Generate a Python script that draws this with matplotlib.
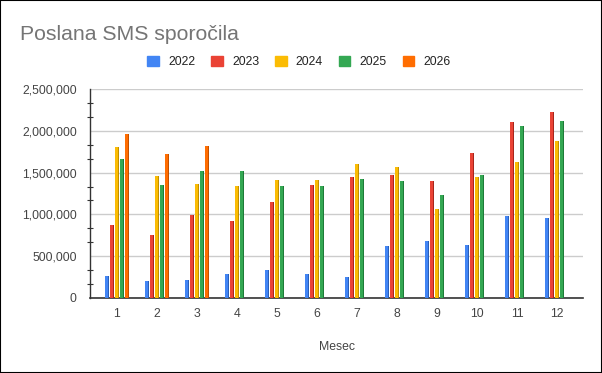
import matplotlib
matplotlib.use("Agg")
import matplotlib.pyplot as plt
import matplotlib.patches as mpatches
from matplotlib.ticker import MultipleLocator, FuncFormatter
import numpy as np

plt.rcParams['font.family'] = ['Liberation Sans', 'DejaVu Sans']

months = [1, 2, 3, 4, 5, 6, 7, 8, 9, 10, 11, 12]
years = ["2022", "2023", "2024", "2025", "2026"]
v2022 = [262000, 202000, 214000, 286000, 333000, 286000, 250000, 619000, 679000, 631000, 976000, 952000]
v2023 = [869000, 750000, 996000, 917000, 1143000, 1357000, 1452000, 1476000, 1405000, 1738000, 2107000, 2226000]
v2024 = [1809000, 1464000, 1369000, 1345000, 1417000, 1417000, 1607000, 1571000, 1059000, 1452000, 1631000, 1881000]
v2025 = [1667000, 1357000, 1524000, 1524000, 1345000, 1345000, 1428000, 1405000, 1238000, 1476000, 2059000, 2119000]
v2026 = [1964000, 1726000, 1821000]
series = [v2022, v2023, v2024, v2025, v2026]
colors = ["#4285F4", "#EA4335", "#FBBC04", "#34A853", "#FF6D01"]
darks = ["#2a5fb8", "#a8261b", "#c08f00", "#1f7a38", "#c25000"]

W, H = 602, 373
fig = plt.figure(figsize=(W / 100, H / 100), dpi=100)
ax = fig.add_axes([90 / W, 1 - 298 / H, (583 - 90) / W, (298 - 89) / H])

step = 0.125
bw = 0.092
for i, (vals, c, d) in enumerate(zip(series, colors, darks)):
    x = np.array(months[:len(vals)], dtype=float) + (i - 2) * step
    ax.bar(x, vals, width=bw, color=c, linewidth=0, zorder=3, label=years[i])
    ax.bar(x + bw * 0.36, vals, width=bw * 0.28, color=d, linewidth=0, zorder=4)

ax.set_xlim(0.33, 12.65)
ax.set_ylim(0, 2500000)
ax.set_xticks(months)
ax.set_xticklabels([str(m) for m in months])
ax.yaxis.set_major_locator(MultipleLocator(500000))
ax.yaxis.set_minor_locator(MultipleLocator(500000 / 3))
ax.yaxis.set_major_formatter(FuncFormatter(lambda v, p: f"{int(v):,}"))
ax.grid(axis='y', which='major', color='#cccccc', linewidth=1, zorder=0)
ax.set_axisbelow(True)
for s in ['top', 'right']:
    ax.spines[s].set_visible(False)
ax.spines['left'].set_color('#333333')
ax.spines['bottom'].set_color('#333333')
ax.spines['left'].set_linewidth(1)
ax.spines['bottom'].set_linewidth(1.2)
ax.tick_params(axis='y', which='major', length=0, pad=9.5, labelsize=8.8, labelcolor='#444444')
ax.tick_params(axis='y', which='minor', length=4, direction='inout', color='#333333', width=0.8)
ax.tick_params(axis='x', length=0, pad=7, labelsize=8.8, labelcolor='#444444')
ax.set_xlabel("Mesec", fontsize=8.8, color='#444444', labelpad=15.5)

fig.text(20 / W, 1 - 40 / H, "Poslana SMS sporočila", fontsize=15.3, color='#757575',
         va='baseline', ha='left')

handles = [mpatches.Patch(color=c, label=y) for c, y in zip(colors, years)]
fig.legend(handles=handles, loc='center', bbox_to_anchor=(299 / W, 1 - 62 / H), ncol=5,
           frameon=False, fontsize=8.8, handlelength=0.95, handleheight=0.95,
           handletextpad=0.75, columnspacing=1.3, labelcolor='#222222')

fig.patches.append(mpatches.Rectangle((0, 0), 1, 1, transform=fig.transFigure,
                                      fill=False, edgecolor='black', linewidth=1.5))

fig.savefig("out.png", dpi=100)
